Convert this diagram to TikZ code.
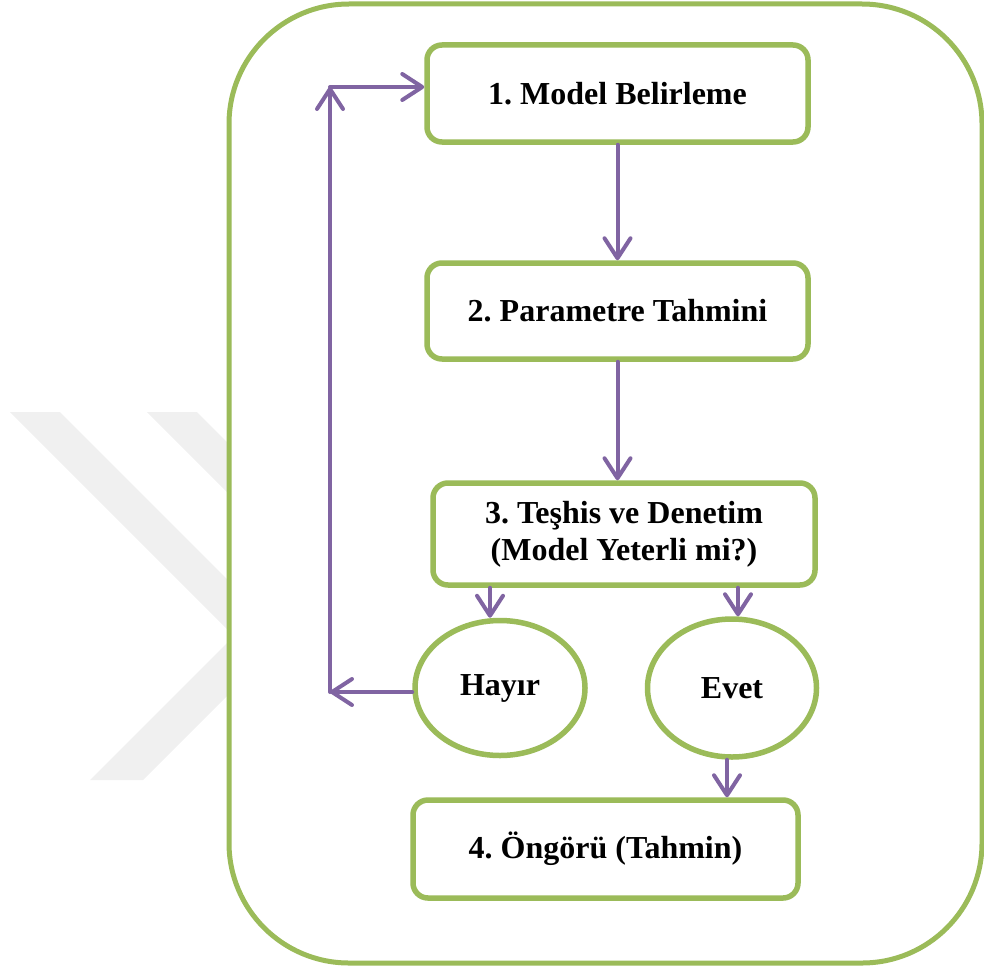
\documentclass[tikz,border=0pt]{standalone}
\usepackage{fontspec}
\setmainfont{Liberation Serif}
\usetikzlibrary{arrows.meta,shapes.geometric}
\definecolor{okgreen}{HTML}{9BBB59}
\definecolor{okpurple}{HTML}{8064A2}
\definecolor{wmgray}{HTML}{F0F0F0}
\frenchspacing
\begin{document}
\begin{tikzpicture}[x=1pt,y=-1pt,
  stepbox/.style={draw=okgreen,line width=5.5pt,rounded corners=15pt,fill=white,
    inner sep=0pt,align=center,font=\fontsize{32}{37}\selectfont\bfseries},
  ovalbox/.style={draw=okgreen,line width=5.5pt,ellipse,fill=white,inner sep=0pt,
    font=\fontsize{32}{37}\selectfont\bfseries},
  arr/.style={draw=okpurple,line width=4pt,line cap=round,line join=round,
    -{Straight Barb[length=20pt,width=26pt,line cap=round,line join=round]}}]
\useasboundingbox (0,0) rectangle (984,966);
% watermark
\fill[wmgray] (10,412) -- (60,412) -- (285.5,637.5) -- (143,780) -- (90,780) -- (234,636) -- cycle;
\fill[wmgray] (147,412) -- (197,412) -- (297,512) -- (247,512) -- cycle;
% container
\draw[okgreen,line width=5pt,fill=white,rounded corners=120pt] (229,4) rectangle (982,963);
% nodes
\node[stepbox,minimum width=381pt,minimum height=97pt] (b1) at (617.5,93.5) {1. Model Belirleme};
\node[stepbox,minimum width=381pt,minimum height=96pt] (b2) at (617.5,311) {2. Parametre Tahmini};
\node[stepbox,minimum width=382pt,minimum height=102pt] (b3) at (624,534) {3. Teşhis ve Denetim\\(Model Yeterli mi?)};
\node[stepbox,minimum width=385pt,minimum height=98pt] (b4) at (605.5,849) {4. Öngörü (Tahmin)};
\node[ovalbox,minimum width=170pt,minimum height=135pt] (hay) at (500,688) {Hayır};
\node[ovalbox,minimum width=169pt,minimum height=138pt] (evt) at (732,688) {Evet};
\coordinate (lb) at (330,692);
\coordinate (lt) at (330,87);
% connectors
\draw[arr] (b1.south) -- (b2.north);
\draw[arr] (b2.south) -- (b2.south |- b3.north);
\draw[arr] ([xshift=-10pt]hay.north |- b3.south) -- ([xshift=-10pt]hay.north);
\draw[arr] ([xshift=6pt]evt.north |- b3.south) -- ([xshift=6pt]evt.north);
\draw[arr] ([xshift=-5pt]evt.south) -- ([xshift=-5pt]evt.south |- b4.north);
\draw[arr] ([yshift=-4pt]hay.west) -- (lb);
\draw[arr] (lb) -- (lt);
\draw[arr] (lt) -- (lt -| b1.west);
\end{tikzpicture}
\end{document}
